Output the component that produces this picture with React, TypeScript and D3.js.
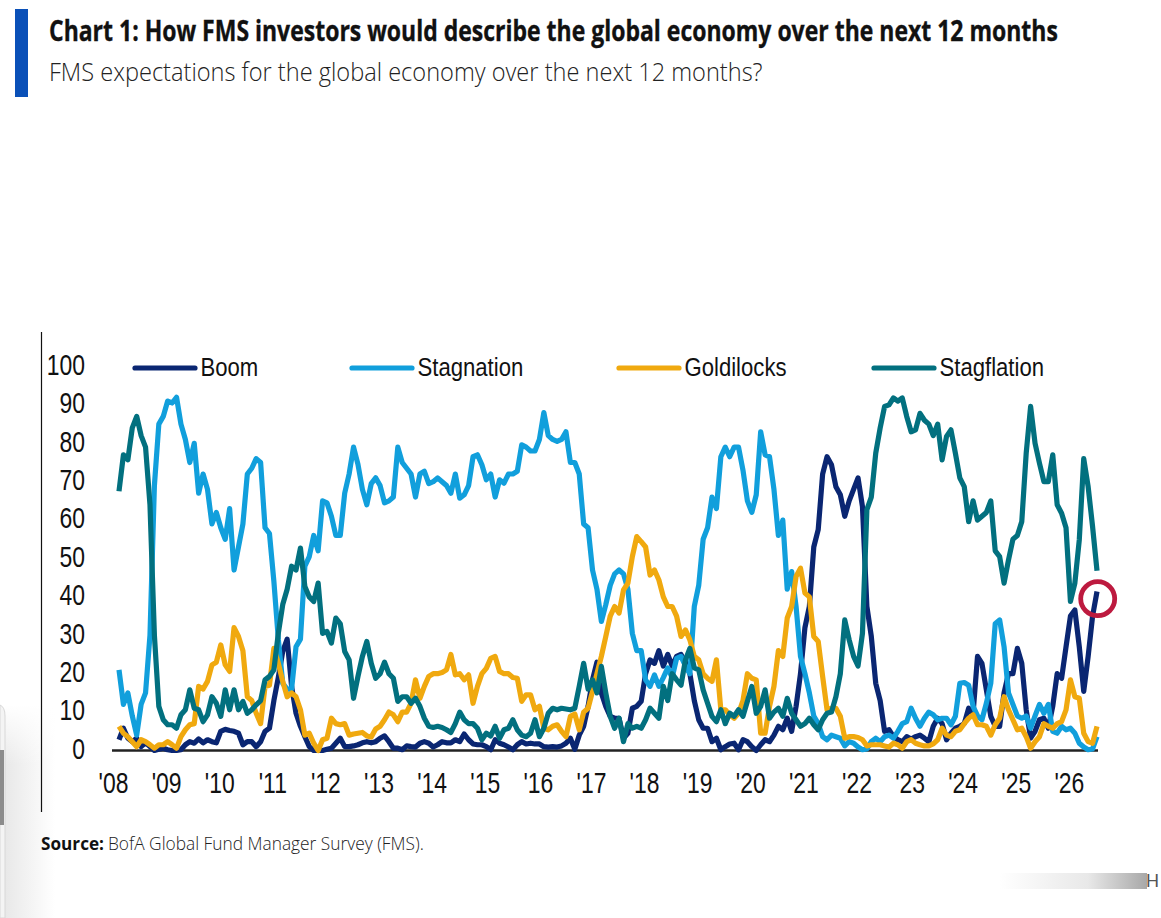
import React, { useRef, useEffect } from 'react';
import * as d3 from 'd3';

const yearLabels = ["'08", "'09", "'10", "'11", "'12", "'13", "'14", "'15", "'16", "'17", "'18", "'19", "'20", "'21", "'22", "'23", "'24", "'25", "'26"];
const yTicks = [0, 10, 20, 30, 40, 50, 60, 70, 80, 90, 100];

// one row per 12 surveys, first reading sits just after the '08 label
const boom = [
  2.8, 5.8, 3.2, 2.3, 3.2, 1, 2, 1, 0, 0.3, 0.6, 0.2,
  0, 0, 0.2, 1.5, 2.3, 1.9, 3, 2, 2.8, 2.3, 2, 5,
  5.5, 5.2, 5, 4.5, 1.5, 2.3, 2.3, 1, 2.3, 5, 5.8, 13,
  19, 25.8, 29, 16.7, 9.7, 6.3, 3.6, 1, 0, 0, 0, 0.3,
  0.6, 1.9, 3.2, 1, 1, 1.2, 1.5, 2, 2.3, 2, 2.3, 3.2,
  3.8, 2.3, 0.6, 0.6, 0.2, 1.2, 1, 0.9, 1.9, 2.3, 1.9, 0.9,
  1.5, 2.3, 2, 2, 2.8, 2.3, 4.3, 2.8, 1.7, 1.5, 1.5, 1,
  0.2, 2.8, 1.9, 1.5, 0.9, 0.2, 1.5, 2.3, 1.7, 1.9, 1.7, 1.7,
  1, 0.9, 1, 0.9, 1.2, 1.9, 3.2, 0.3, 4, 6.3, 11.5, 18.4,
  23, 15, 11.5, 8.9, 8.4, 8.4, 3.2, 4.5, 11, 11.5, 12.8, 20,
  23.6, 22.7, 26, 22, 25, 22, 24.5, 25, 23, 20, 13, 8,
  5.8, 5.8, 2.3, 3.2, 0.2, 1, 1.7, 1.9, 0.2, 2.8, 2.3, 1,
  0, 1.5, 2.8, 2.3, 4, 6.3, 5.4, 8.4, 5, 11.5, 20, 32,
  37.5, 53, 57.5, 72, 76.5, 74.4, 68.7, 66.6, 61, 65, 68, 71,
  63.5, 37.5, 29.7, 17.5, 13, 5, 5.4, 3.6, 2.8, 2.3, 3.6, 3,
  3.6, 4, 3.2, 2.3, 6.3, 8.4, 7, 2.8, 4.5, 5.8, 6.3, 7,
  11, 9.7, 24.5, 22.7, 15.8, 8.9, 6.3, 6.3, 15, 20, 20, 26.6,
  22.7, 10.6, 3.2, 5, 8, 8.4, 5.8, 11.5, 20, 18.8, 27, 35,
  36.6, 27, 15.4, 24.5, 35, 41.4,
];

const stagnation = [
  21, 12, 15, 9, 4, 12, 15, 30, 69, 85, 87, 91,
  90.5, 92, 85, 81, 75, 80, 67, 72, 68, 59, 62, 58,
  55, 63, 47, 53, 59, 72, 73.5, 76, 75, 58, 56.5, 44,
  29, 17.5, 16, 16, 27, 29, 48, 50.5, 56, 52, 65, 64.5,
  61, 56, 56, 67, 72, 79, 74.5, 68, 64, 69.5, 71, 69,
  64.5, 65, 66, 79, 75, 73.5, 72, 66, 72, 72.7, 69.5, 70,
  71, 70, 69, 67, 72, 65.7, 66.6, 69, 76.5, 77, 74.4, 70.5,
  72, 66, 70.5, 69.6, 72, 72, 72.7, 79.6, 79, 78, 78, 81,
  88, 82, 81, 80.5, 81, 83, 75, 75, 72, 59, 58, 47,
  42, 33.6, 38, 43, 46, 47, 46, 42, 30.5, 26, 26, 18.4,
  16.7, 19.7, 16.7, 19, 21.5, 19, 24, 24.5, 22, 20, 37.5, 43,
  55, 58, 66, 63, 76.5, 79, 76.5, 79, 79, 73, 65, 62,
  66.6, 83, 77, 76.5, 68, 56, 60, 42, 46.6, 37.5, 24.5, 20,
  15, 9, 7, 3.6, 2.8, 4, 3.6, 3.2, 1.2, 2.3, 1.9, 0.9,
  0.2, 0.4, 2.3, 3.2, 2.3, 3.6, 4, 3.2, 5, 7, 7.5, 11,
  8.4, 6.3, 8.4, 10, 9.3, 8, 8.4, 8.4, 6.7, 8.9, 17.5, 17.7,
  17, 11.5, 9, 8, 12.3, 17.5, 33, 34, 27, 15, 12, 9,
  8.4, 9, 5.8, 9, 12, 9.7, 12, 5, 4.5, 6.3, 5.4, 5.8,
  4.5, 1.9, 0.9, 0.2, 0.4, 3.6,
];

const goldilocks = [
  6.3, 4.5, 3.6, 2.3, 1, 2.8, 2.3, 1.5, 0.6, 1.5, 1.5, 2.3,
  1.5, 0.6, 3.6, 5.4, 6.7, 7, 16.7, 16, 18, 22.3, 23, 27.5,
  22.3, 20.6, 32, 29.7, 26, 14, 13, 9.7, 7, 16.7, 17, 26.6,
  22.7, 18, 14, 15, 14, 10.6, 4, 4.5, 1.9, 0, 2.8, 3.2,
  8.4, 7, 6.7, 7, 4, 4.3, 4.5, 4.7, 3.8, 3.5, 5.6, 6.3,
  8, 10, 9.3, 7.5, 10, 10, 12.3, 18.4, 13.6, 16.7, 19.3, 20,
  20, 20.3, 21, 25, 19.7, 20, 18.4, 19.7, 12.3, 16.7, 20, 21.4,
  24, 24.5, 20.6, 20, 20, 19, 18.8, 12.8, 14.5, 14.5, 10.6, 11.5,
  5.8, 5.4, 6.3, 6.7, 5, 3.6, 8.9, 9.5, 5.4, 10, 11, 15.4,
  20, 24.5, 29.7, 35, 37.5, 35.8, 41.8, 43.6, 50.5, 55.7, 54.4, 53,
  45.7, 47, 44.4, 40, 37.5, 37.5, 35, 29.7, 31.4, 28.8, 24.5, 23.6,
  20, 18.8, 18, 23.6, 10.6, 10.6, 9.3, 8.4, 9.7, 13, 20, 18.8,
  18.4, 4.5, 4.5, 11.5, 16.7, 26, 24.5, 34.5, 37.5, 45.3, 47.5, 41,
  40, 29.7, 28.4, 19.3, 10.6, 11, 11, 8.9, 3.2, 3.6, 3.6, 3.4,
  2.8, 1.2, 1.5, 1.5, 1.5, 1.2, 0.9, 1.9, 1.5, 0.6, 2.3, 2.8,
  1.9, 1.5, 1.2, 1.2, 1.7, 2.8, 5.8, 4, 3.6, 5, 5.4, 7,
  8.4, 9.3, 6.7, 6.7, 6.3, 4, 6.7, 8.4, 14, 10.6, 8, 5.4,
  5.8, 3.6, 0.6, 2.3, 3.6, 7, 6.3, 5.8, 7, 7.5, 10.6, 18.4,
  14, 13.6, 4.5, 2.3, 1.9, 6.3,
];

const stagflation = [
  67.5, 77, 75.7, 84, 87, 82, 79, 64, 30, 11.5, 8, 6.7,
  6.7, 5.8, 9.3, 10.6, 15.8, 11, 10.6, 7.5, 9.3, 14, 12.3, 8.9,
  15.8, 10.6, 15.8, 10.6, 12.8, 9.7, 10.6, 11.9, 13, 18.4, 19.3, 21,
  30.5, 38, 42, 48, 47, 52.7, 42.7, 40, 38.8, 43.6, 30.5, 31,
  28, 34.5, 33, 25.8, 23.6, 13.6, 19.3, 24.5, 28.4, 22.7, 18.8, 20,
  23, 20, 18.8, 12.8, 14, 14, 12.3, 13.6, 11.5, 8.4, 6.3, 6,
  6.3, 6, 5.4, 4.7, 7, 10, 8, 7, 7, 5.8, 2.8, 4.5,
  3.8, 6.3, 3.2, 5.4, 5.8, 8, 5.4, 4, 3.6, 4.5, 8, 3.6,
  5.8, 9.7, 11, 10.6, 11, 10.8, 10.6, 11, 16.7, 22.7, 16, 18.4,
  15, 21.9, 15, 8.9, 5.8, 8.4, 2.3, 7, 5.8, 6.3, 5.8, 8,
  11, 9.7, 8.4, 16.7, 13, 20, 18.4, 17, 23.6, 26.6, 21.5, 21,
  15.8, 12.3, 8.9, 7.5, 10.6, 7, 9.7, 8.9, 10.6, 8.9, 12.8, 16.7,
  9.7, 11.5, 15.8, 8.4, 10, 11, 8.9, 13.6, 9.7, 8, 6.3, 7,
  8.4, 6.7, 5.4, 8, 9.7, 10, 14, 20, 34, 28.8, 24.5, 22,
  30.5, 62.7, 66, 77.4, 84, 89.6, 90, 91.8, 91, 91.8, 87, 83,
  83.5, 87.8, 86, 85, 82, 85, 75.7, 81.8, 83.5, 77.4, 71, 68.7,
  59.6, 65, 60, 61, 62, 65, 52, 50.5, 43.6, 49.6, 55, 56,
  59.6, 77.4, 89.6, 80, 74.8, 70, 70, 77, 64, 61.8, 58, 38.8,
  43.6, 54.9, 76, 68.7, 58.3, 46.8,
];

const W = 1161;
const H = 918;
const x = d3.scaleLinear().domain([0, 221]).range([119, 1097]);
const y = d3.scaleLinear().domain([0, 100]).range([750.5, 366.5]);

const seriesList = [
  { name: 'Boom', values: boom, color: '#0a2672', lx: 135 },
  { name: 'Stagnation', values: stagnation, color: '#119fdc', lx: 352 },
  { name: 'Goldilocks', values: goldilocks, color: '#f0a90f', lx: 619 },
  { name: 'Stagflation', values: stagflation, color: '#02707f', lx: 874 },
];

const chartFont = '"Liberation Sans", Arial, sans-serif';
const headFont = '"Open Sans", sans-serif';
const tickSqueeze = 0.79; // tick labels are a narrowed Arial
const legendSqueeze = 0.885;

const App: React.FC = () => {
  const svgRef = useRef<SVGSVGElement>(null);
  const yAxisRef = useRef<SVGGElement>(null);
  const xAxisRef = useRef<SVGGElement>(null);

  useEffect(() => {
    const yAxis = d3.select(yAxisRef.current!);
    yAxis.call(d3.axisLeft(y).tickValues(yTicks).tickSize(0).tickPadding(0) as any);
    yAxis.select('.domain').remove();
    yAxis.selectAll('text')
      .attr('x', 0)
      .attr('dy', '0.34em')
      .attr('fill', '#111')
      .attr('transform', `scale(${tickSqueeze},1)`);

    const xAxis = d3.select(xAxisRef.current!);
    const monthTicks = yearLabels.map((_, i) => i * 12);
    xAxis.call(
      d3.axisBottom(x)
        .tickValues(monthTicks)
        .tickSize(0)
        .tickFormat((_, i) => yearLabels[i]) as any
    );
    xAxis.select('.domain').remove();
    xAxis.selectAll('text')
      .attr('y', 0)
      .attr('dy', 0)
      .attr('fill', '#111')
      .attr('transform', `translate(-6,0) scale(${tickSqueeze},1)`);

    // squeeze the header and source lines to their measured widths
    d3.select(svgRef.current!).selectAll<SVGTextElement, unknown>('text[data-w]').each(function () {
      const el = d3.select(this);
      const k = +el.attr('data-w') / this.getComputedTextLength();
      el.attr('transform', `translate(${el.attr('data-x')},${el.attr('data-y')}) scale(${k},1)`);
    });
  }, []);

  const line = d3.line<number>()
    .x((_, i) => x(i))
    .y(d => y(d));

  return (
    <svg
      ref={svgRef}
      width={W}
      height={H}
      viewBox={`0 0 ${W} ${H}`}
      style={{ position: 'absolute', left: 0, top: 0, background: '#fff' }}
    >
      <defs>
        <linearGradient id="edgeFade" x1="0" x2="1" y1="0" y2="0">
          <stop offset="0" stopColor="#e8e8e8" />
          <stop offset="1" stopColor="#fff" />
        </linearGradient>
        <linearGradient id="edgeTop" x1="0" x2="0" y1="0" y2="1">
          <stop offset="0" stopColor="#fff" />
          <stop offset="1" stopColor="#fff" stopOpacity={0} />
        </linearGradient>
        <linearGradient id="barFade" x1="0" x2="1" y1="0" y2="0">
          <stop offset="0" stopColor="#fff" />
          <stop offset="0.6" stopColor="#e8e8e8" />
          <stop offset="1" stopColor="#a8a8a8" />
        </linearGradient>
      </defs>

      {/* screenshot leftovers at the page edges */}
      <rect x={5} y={705} width={50} height={213} fill="url(#edgeFade)" />
      <rect x={5} y={705} width={50} height={60} fill="url(#edgeTop)" />
      <path d="M0,705 Q5,707 5,716 L5,918 L0,918 Z" fill="#f4f4f4" stroke="#d8d8d8" strokeWidth={1} />
      <rect x={0} y={750} width={4} height={75} fill="#8c8c8c" />
      <rect x={1000} y={873} width={147} height={16} fill="url(#barFade)" />
      <text x={1146} y={887} fontFamily={chartFont} fontSize={18} fill="#555">H</text>

      {/* header */}
      <rect x={15} y={9} width={13} height={88} fill="#0a50b8" />
      <text
        data-x={49} data-y={41} data-w={1009}
        fontFamily={headFont} fontWeight={700} fontSize={28}
        fill="#111" stroke="#111" strokeWidth={0.35}
      >
        Chart 1: How FMS investors would describe the global economy over the next 12 months
      </text>
      <text
        data-x={49} data-y={81} data-w={714}
        fontFamily={headFont} fontWeight={300} fontSize={25} fill="#222"
      >
        FMS expectations for the global economy over the next 12 months?
      </text>

      {/* axes */}
      <line x1={41.5} x2={41.5} y1={332} y2={812} stroke="#111" strokeWidth={1.2} />
      <line x1={112} x2={1098} y1={750.5} y2={750.5} stroke="#222" strokeWidth={2.5} />
      <g ref={yAxisRef} transform="translate(85,-2)" style={{ fontSize: 29, fontFamily: chartFont }} />
      <g ref={xAxisRef} transform="translate(0,793)" style={{ fontSize: 29, fontFamily: chartFont }} />

      {/* series */}
      {seriesList.map(s => (
        <path
          key={s.name}
          d={line(s.values) ?? undefined}
          fill="none"
          stroke={s.color}
          strokeWidth={5.2}
          strokeLinejoin="round"
          strokeLinecap="butt"
        />
      ))}

      {/* legend */}
      {seriesList.map(s => (
        <g key={s.name}>
          <line x1={s.lx} x2={s.lx + 60} y1={368} y2={368} stroke={s.color} strokeWidth={5.2} strokeLinecap="round" />
          <text
            transform={`translate(${s.lx + 65.5},376) scale(${legendSqueeze},1)`}
            fontFamily={chartFont} fontSize={25} fill="#111"
          >
            {s.name}
          </text>
        </g>
      ))}

      {/* latest reading marker */}
      <circle cx={1097.7} cy={598.7} r={17} fill="none" stroke="#bd1a3f" strokeWidth={4.8} />

      {/* source */}
      <text data-x={41} data-y={850} data-w={63} fontFamily={headFont} fontWeight={700} fontSize={18} fill="#111">
        Source:
      </text>
      <text data-x={108} data-y={850} data-w={316} fontFamily={headFont} fontWeight={300} fontSize={18} fill="#222">
        BofA Global Fund Manager Survey (FMS).
      </text>
    </svg>
  );
};

export default App;
